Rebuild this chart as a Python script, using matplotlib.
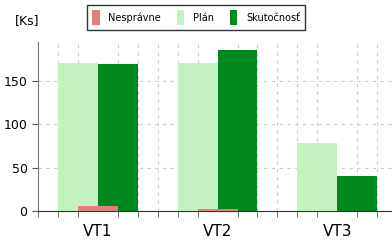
import matplotlib
matplotlib.use("Agg")
import matplotlib.pyplot as plt
import numpy as np
from matplotlib.ticker import MultipleLocator

categories = ["VT1", "VT2", "VT3"]
wrong = [6, 2, 0]
plan = [171, 171, 78]
actual = [170, 186, 41]

x = np.arange(len(categories))
w = 1 / 3

fig = plt.figure(figsize=(3.92, 2.41), dpi=100)
ax = fig.add_axes([0.097, 0.124, 0.916, 0.702])

ax.bar(x - w / 2, plan, width=w, color="#c2f2c2", label="Plán", zorder=2)
ax.bar(x + w / 2, actual, width=w, color="#00871d", label="Skutočnosť", zorder=2)
ax.bar(x, wrong, width=w, color="#e37f7f", label="Nesprávne", zorder=3)

ax.set_xlim(-0.5, 2.5)
ax.set_ylim(0, 195)
ax.set_xticks(x)
ax.set_xticklabels(categories, fontsize=11)
ax.xaxis.set_minor_locator(MultipleLocator(1 / 6))
ax.set_yticks([0, 50, 100, 150])
ax.tick_params(axis="y", labelsize=9, length=4, color="#555555")
ax.tick_params(axis="x", which="major", length=0, pad=9)
ax.tick_params(axis="x", which="minor", length=4, color="#555555")
ax.grid(axis="x", which="minor", linestyle=(0, (3, 4)), color="#cccccc", linewidth=0.8, zorder=0)
ax.grid(axis="y", which="major", linestyle=(0, (3, 4)), color="#cccccc", linewidth=0.8, zorder=0)
ax.set_axisbelow(True)

for s in ["top", "right"]:
    ax.spines[s].set_visible(False)
ax.spines["left"].set_color("#777777")
ax.spines["bottom"].set_color("#333333")

handles, labels = ax.get_legend_handles_labels()
order = [2, 0, 1]
leg = fig.legend([handles[i] for i in order], [labels[i] for i in order],
                 loc="center", bbox_to_anchor=(0.5, 0.927), ncol=3, fontsize=7,
                 frameon=True, fancybox=False, edgecolor="black",
                 handlelength=0.8, handleheight=2.0, columnspacing=1.6,
                 handletextpad=0.9, borderpad=0.5)
leg.get_frame().set_linewidth(1.0)

fig.text(0.038, 0.915, "[Ks]", fontsize=9, ha="left", va="center")

fig.savefig("out.png", dpi=100)
